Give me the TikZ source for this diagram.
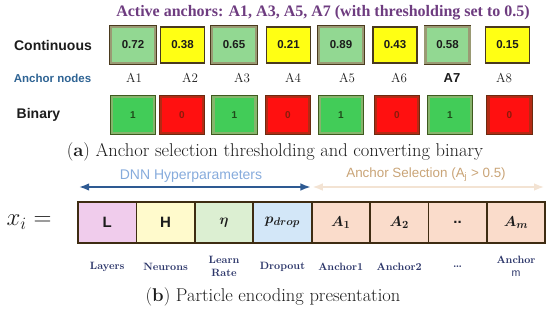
\documentclass[tikz,border=0pt]{standalone}
\usepackage{amsmath}
\usepackage{fontspec}
\setsansfont{Liberation Sans}
\newfontfamily\titlefont{Liberation Serif}
\usetikzlibrary{arrows.meta,positioning}
\definecolor{ink}{HTML}{1C1C1C}
\definecolor{plum}{HTML}{6E3C80}
\definecolor{steel}{HTML}{2F6494}
\definecolor{navy}{HTML}{2B3569}
\definecolor{rim}{HTML}{4A3A1E}
\definecolor{gfill}{HTML}{92D892}
\definecolor{gband}{HTML}{9A9A74}
\definecolor{yfill}{HTML}{FFFF14}
\definecolor{bgfill}{HTML}{42CC58}
\definecolor{bgband}{HTML}{86B46C}
\definecolor{bgrim}{HTML}{3E5A1E}
\definecolor{bgtext}{HTML}{1F4A1A}
\definecolor{brfill}{HTML}{FF1010}
\definecolor{brband}{HTML}{B42A14}
\definecolor{brrim}{HTML}{6B2A10}
\definecolor{brtext}{HTML}{8A1A0A}
\definecolor{frame}{HTML}{3E2C12}
\definecolor{pinkL}{HTML}{F0CCEC}
\definecolor{yelH}{HTML}{FFFACC}
\definecolor{greenEta}{HTML}{DCEFD2}
\definecolor{blueP}{HTML}{D3E7F8}
\definecolor{peach}{HTML}{FADCCB}
\definecolor{skytext}{HTML}{86ABDC}
\definecolor{skyarrow}{HTML}{2E5A92}
\definecolor{tantext}{HTML}{C9A477}
\definecolor{tanarrow}{HTML}{F3E3D3}

\begin{document}
\begin{tikzpicture}[x=1pt,y=1pt,>=Latex,line width=.9pt,every node/.style={text=ink},
  row/.style={anchor=center,font=\sffamily\bfseries\fontsize{14}{16}\selectfont},
  val/.style={minimum width=44pt,minimum height=36pt,inner sep=0pt,font=\sffamily\bfseries\fontsize{11.5}{13}\selectfont},
  hi/.style={val,fill=gfill,draw=gband,line width=2.2pt,preaction={draw=rim,line width=3.8pt}},
  lo/.style={val,fill=yfill,draw=rim,line width=1.8pt},
  bit/.style={minimum width=42pt,minimum height=36pt,inner sep=0pt,font=\sffamily\bfseries\fontsize{10}{12}\selectfont},
  one/.style={bit,fill=bgfill,draw=bgband,line width=2.6pt,preaction={draw=bgrim,line width=4.2pt},text=bgtext},
  zero/.style={bit,fill=brfill,draw=brband,line width=2.6pt,preaction={draw=brrim,line width=4.2pt},text=brtext},
  anc/.style={font=\fontsize{13}{15}\selectfont},
  enc/.style={minimum width=58.4pt,minimum height=41pt,inner sep=0pt,outer sep=0pt,draw=frame,line width=1.8pt,font=\sffamily\bfseries\fontsize{15}{17}\selectfont},
  lab/.style={align=center,text=navy,font=\bfseries\fontsize{10.6}{13}\selectfont},
  span/.style={<->,line width=1.6pt,shorten <=1pt,shorten >=1pt}]
\path[use as bounding box] (0,0) rectangle (550,309);

% (a) thresholding
\node[text=plum,font=\titlefont\bfseries\fontsize{16}{18}\selectfont] (title) at (323,296.5) {Active anchors: A1, A3, A5, A7 (with thresholding set to 0.5)};
\node[row] (cont) at (53,264) {Continuous};
\node[row,text=steel,font=\sffamily\bfseries\fontsize{11.5}{14}\selectfont] (anchors) at (52.5,231) {Anchor nodes};
\node[row] (bin) at (38.5,194) {Binary};

\foreach \i/\x/\s/\v in {1/133/hi/0.72,2/182.5/lo/0.38,3/234/hi/0.65,4/288.5/lo/0.21,5/341/hi/0.89,6/395/lo/0.43,7/447.5/hi/0.58,8/507.5/lo/0.15}
  \node[\s] (c\i) at (\x,264) {\v};
\foreach \i/\x/\t in {1/134/A1,2/190/A2,3/242/A3,4/293/A4,5/347/A5,6/399/A6,7/452/{\sffamily\bfseries A7},8/504/A8}
  \node[anc] (a\i) at (\x,231) {\t};
\foreach \i/\x/\s/\b in {1/133/one/1,2/182/zero/0,3/234.5/one/1,4/288/zero/0,5/341/one/1,6/397/zero/0,7/450/one/1,8/509.5/zero/0}
  \node[\s] (b\i) at (\x,194) {\b};

\node[font=\fontsize{18.5}{20}\selectfont] (capa) at (275,157) {(\textbf{a}) Anchor selection thresholding and converting binary};

% (b) particle encoding
\node[font=\fontsize{24}{26}\selectfont] (xi) at (29,87) {$x_i =$};
\foreach \i/\c/\t in {1/pinkL/L,2/yelH/H,3/greenEta/{$\boldsymbol{\eta}$},4/blueP/{$\boldsymbol{p_{drop}}$},5/peach/{$\boldsymbol{A_1}$},6/peach/{$\boldsymbol{A_2}$},7/peach/{..},8/peach/{$\boldsymbol{A_m}$}}
  \node[enc,fill=\c] (e\i) at ({78+58.4*(\i-0.5)},86.5) {\t};
\foreach \i/\t in {1/Layers,2/Neurons,3/{Learn\\Rate},4/Dropout,5/Anchor1,6/Anchor2,7/{\ldots},8/{Anchor\\{\sffamily\mdseries m}}}
  \node[lab] (l\i) at ([yshift=-23.5pt]e\i.south) {\t};

\draw[span,skyarrow] ([yshift=15pt]e1.north west) -- ([yshift=15pt]e4.north east);
\draw[span,tanarrow] ([yshift=15pt]e5.north west) -- ([yshift=15pt]e8.north east);
\node[text=skytext,font=\sffamily\fontsize{14}{16}\selectfont] (dnn) at (191,133) {DNN Hyperparameters};
\node[text=tantext,font=\sffamily\fontsize{13.4}{15}\selectfont] (sel) at (426,134) {Anchor Selection (A$_{\text{j}}$ > 0.5)};

\node[font=\fontsize{18.5}{20}\selectfont] (capb) at (273,12) {(\textbf{b}) Particle encoding presentation};
\end{tikzpicture}
\end{document}
